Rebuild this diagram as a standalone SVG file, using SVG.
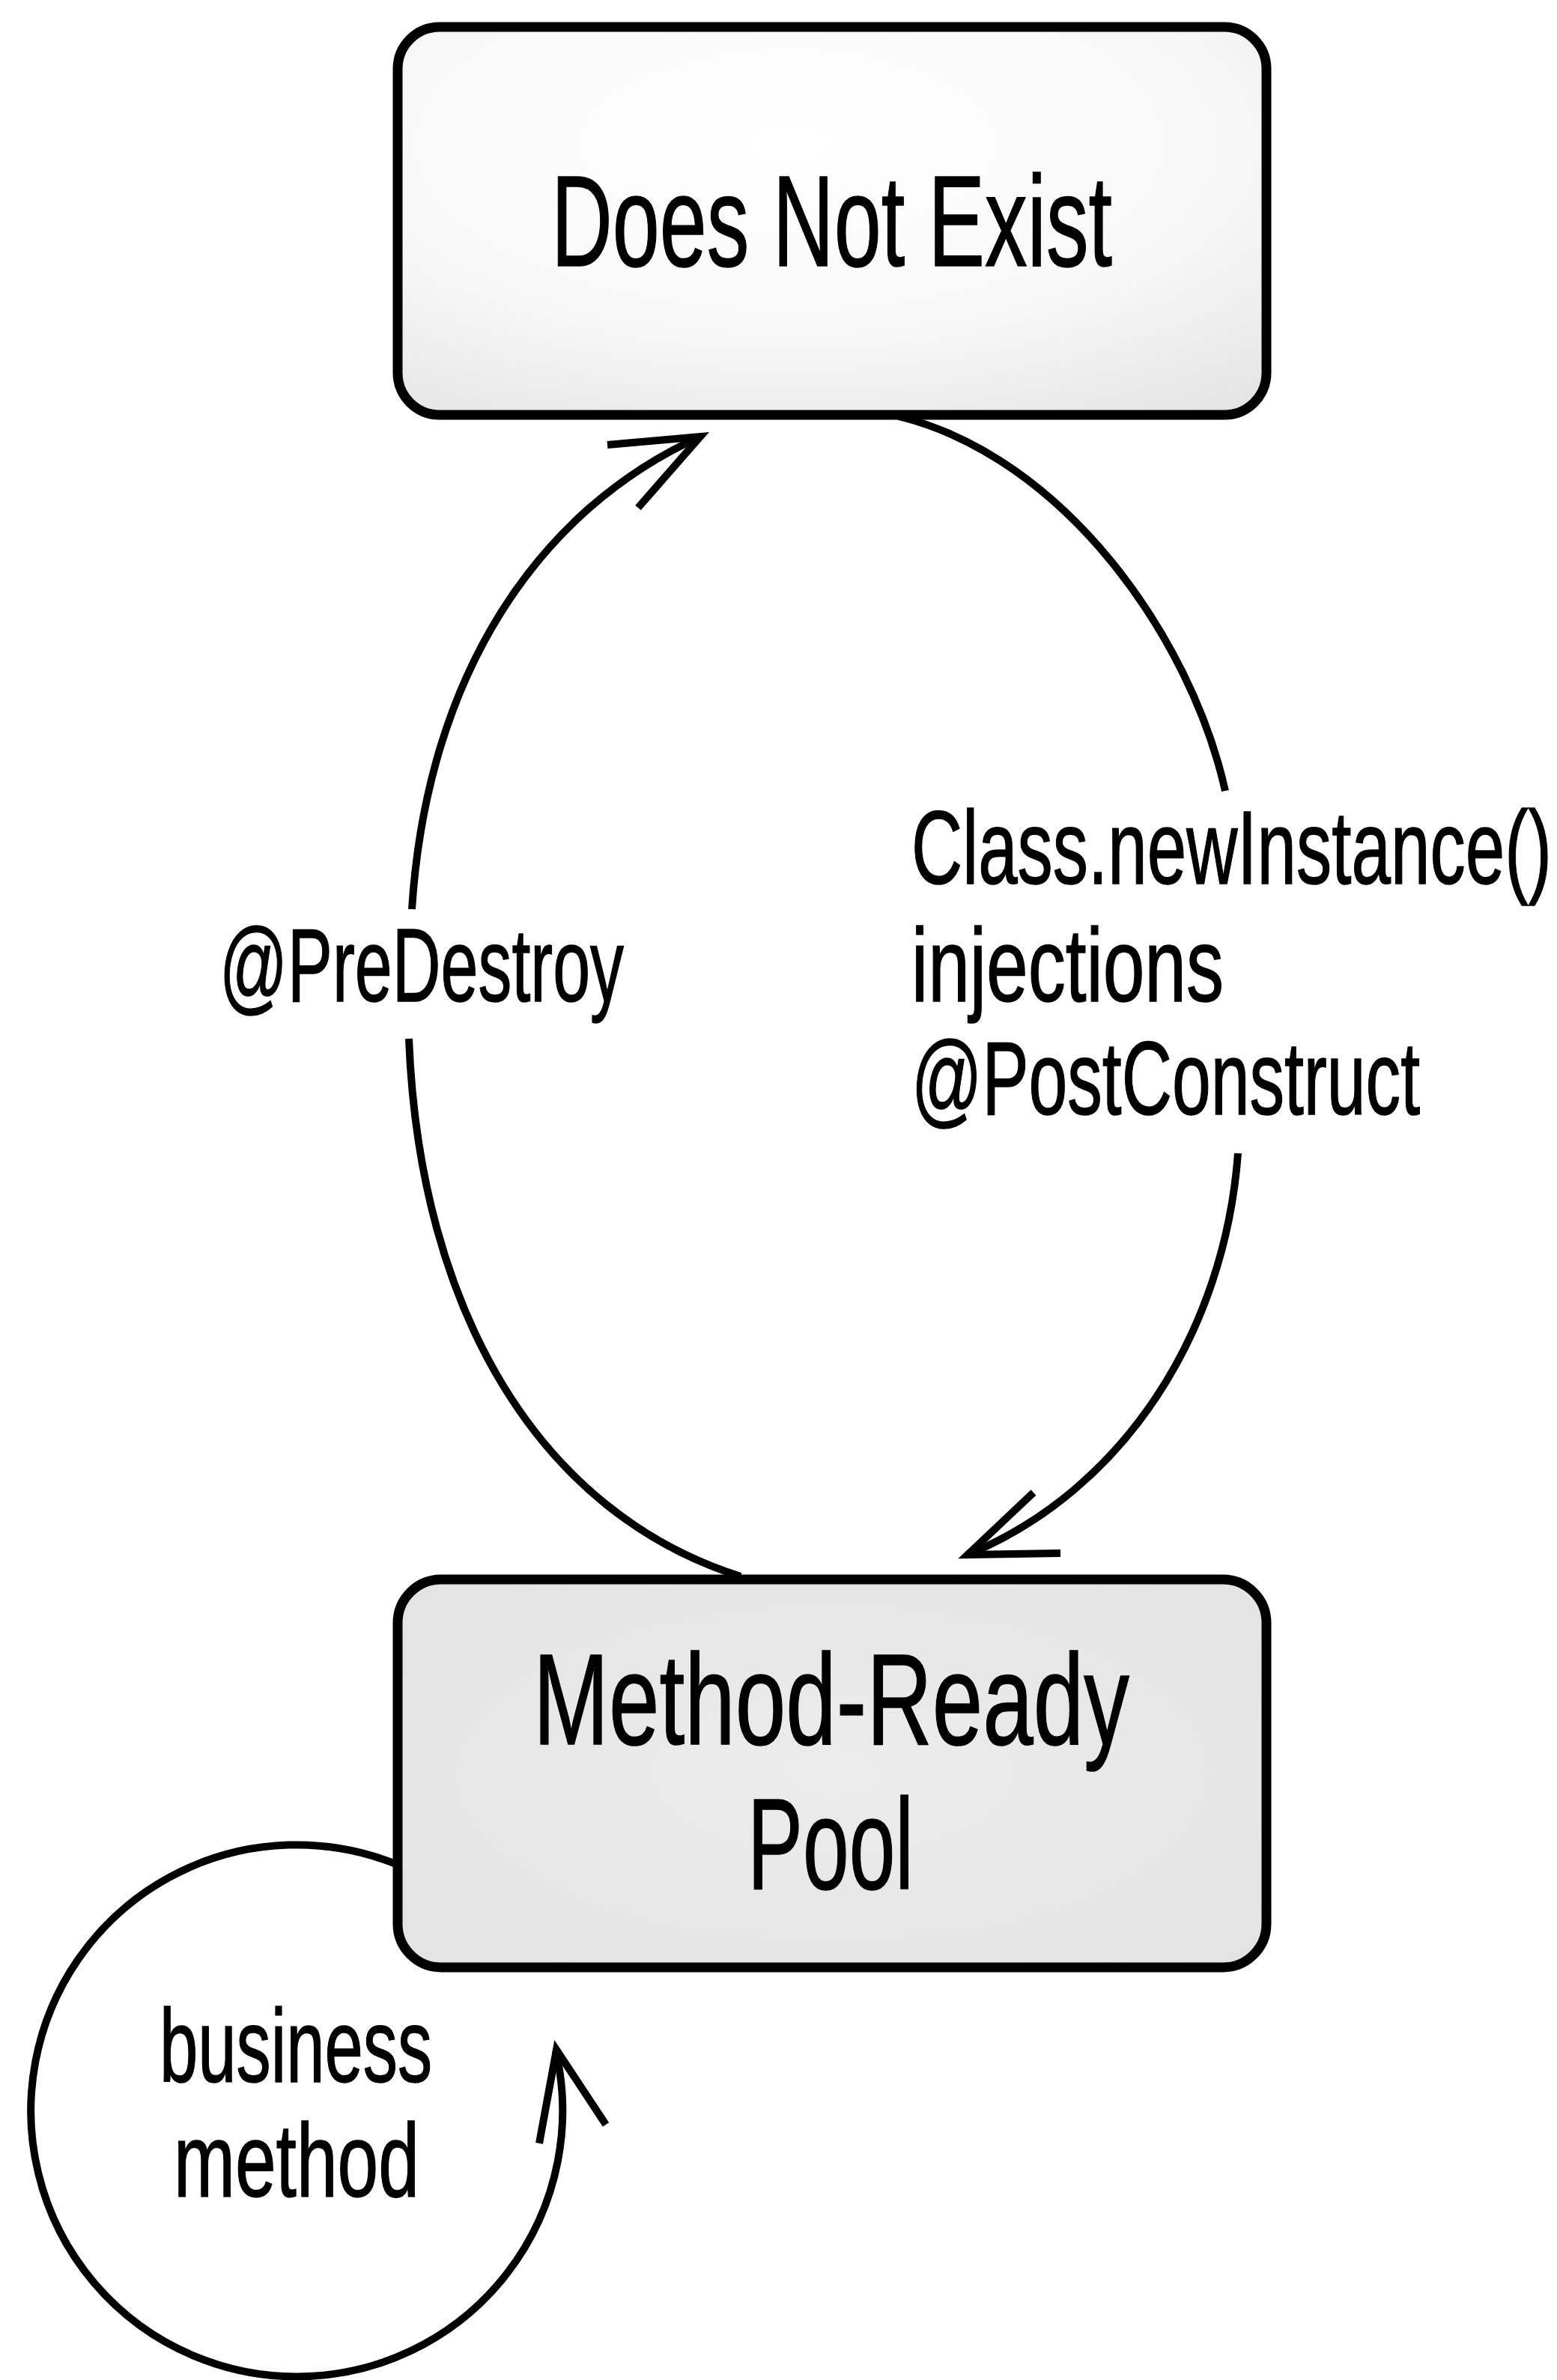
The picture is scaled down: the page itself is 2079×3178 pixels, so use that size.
<svg xmlns="http://www.w3.org/2000/svg" width="2079" height="3178" viewBox="0 0 2079 3178">
  <style>
    .box { stroke: #000; stroke-width: 13; }
    .lbl { font-family: "Liberation Sans Narrow", "Liberation Sans", Arial, sans-serif; fill: #000; stroke: #000; stroke-width: 1.5; }
    .big { font-size: 172px; }
    .small { font-size: 140px; }
    .conn { fill: none; stroke: #000; stroke-width: 10; stroke-linecap: butt; stroke-linejoin: miter; }
  </style>
  <defs>
    <radialGradient id="gTop" cx="0.45" cy="0.3" r="0.85">
      <stop offset="0" stop-color="#ffffff"/>
      <stop offset="0.6" stop-color="#f7f7f7"/>
      <stop offset="1" stop-color="#e4e4e4"/>
    </radialGradient>
    <radialGradient id="gBot" cx="0.5" cy="0.5" r="0.75">
      <stop offset="0" stop-color="#ececec"/>
      <stop offset="1" stop-color="#e2e2e2"/>
    </radialGradient>
  </defs>
  <rect width="2079" height="3178" fill="#ffffff"/>

  <g id="connectors">
    <!-- Does Not Exist -> Method-Ready Pool (right arc) -->
    <path class="conn" d="M1200,556 C1420,610 1590,850 1636,1056"/>
    <path class="conn" d="M1653,1540 C1635,1780 1500,1990 1292,2076"/>
    <polyline class="conn" points="1380,1993 1292,2076 1416,2074"/>
    <!-- Method-Ready Pool -> Does Not Exist (left arc) -->
    <path class="conn" d="M989,2105 C720,2020 560,1750 546,1387"/>
    <path class="conn" d="M550,1214 C570,900 720,680 935,583"/>
    <polyline class="conn" points="811,594 935,583 852,678"/>
    <!-- business method self loop -->
    <path class="conn" d="M531,2490 A355,355 0 1 0 742,2738"/>
    <polyline class="conn" points="720,2862 743,2737 809,2837"/>
  </g>

  <g id="node-does-not-exist">
    <rect class="box" x="531" y="36" width="1160" height="518" rx="56" ry="56" fill="url(#gTop)"/>
    <text class="lbl big" x="736" y="355" textLength="749" lengthAdjust="spacingAndGlyphs">Does Not Exist</text>
  </g>

  <g id="node-method-ready-pool">
    <rect class="box" x="531" y="2109" width="1160" height="518" rx="58" ry="58" fill="url(#gBot)"/>
    <text class="lbl big" x="712" y="2329" textLength="796" lengthAdjust="spacingAndGlyphs">Method-Ready</text>
    <text class="lbl big" x="998" y="2522" textLength="222" lengthAdjust="spacingAndGlyphs">Pool</text>
  </g>

  <g id="labels">
    <text class="lbl small" x="293" y="1337" textLength="540" lengthAdjust="spacingAndGlyphs">@PreDestroy</text>
    <text class="lbl small" x="1217" y="1180" textLength="855" lengthAdjust="spacingAndGlyphs">Class.newInstance()</text>
    <text class="lbl small" x="1217" y="1337" textLength="417" lengthAdjust="spacingAndGlyphs">injections</text>
    <text class="lbl small" x="1217" y="1488" textLength="679" lengthAdjust="spacingAndGlyphs">@PostConstruct</text>
    <text class="lbl small" x="213" y="2780" textLength="364" lengthAdjust="spacingAndGlyphs">business</text>
    <text class="lbl small" x="232" y="2933" textLength="328" lengthAdjust="spacingAndGlyphs">method</text>
  </g>
</svg>
